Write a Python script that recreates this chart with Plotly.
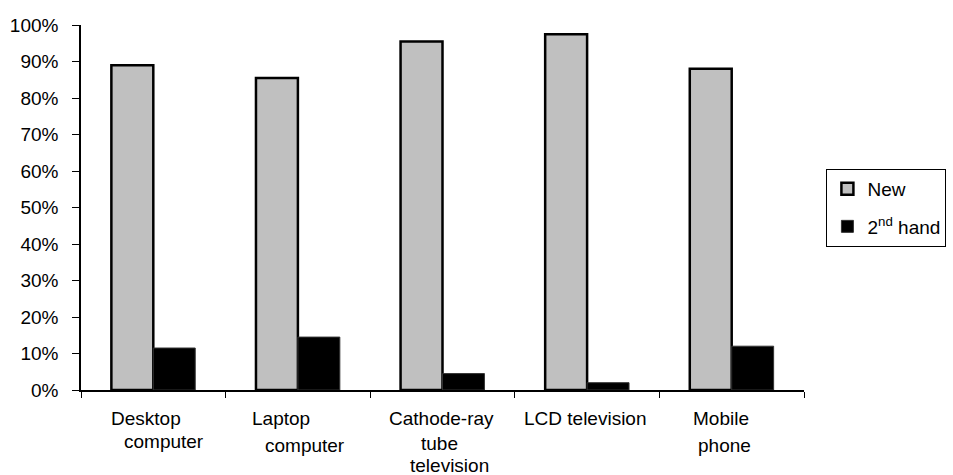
import plotly.graph_objects as go

categories = ["Desktop computer", "Laptop computer", "Cathode-ray tube television",
              "LCD television", "Mobile phone"]
new_vals = [89.0, 85.5, 95.5, 97.5, 88.0]
second_vals = [11.5, 14.5, 4.5, 2.0, 12.0]
y_ticks = [0, 10, 20, 30, 40, 50, 60, 70, 80, 90, 100]
y_tick_labels = [f"{v}%" for v in y_ticks]

# category label lines: (category index, text, x offset px, y offset px below axis)
label_lines = [
    (0, "Desktop", -7, 28), (0, "computer", 11, 51),
    (1, "Laptop", -17, 28), (1, "computer", 7, 55),
    (2, "Cathode-ray", -1, 28), (2, "tube", -3, 53), (2, "television", 7, 75),
    (3, "LCD television", -2, 28),
    (4, "Mobile", -11, 28), (4, "phone", -7, 55),
]

FONT = "Liberation Sans, Arial, sans-serif"
FS = 19

fig = go.Figure()
fig.add_trace(go.Bar(x=categories, y=new_vals, name="New",
                     marker=dict(color="#c0c0c0", line=dict(color="black", width=2.5)),
                     legendgroup="a"))
fig.add_trace(go.Bar(x=categories, y=second_vals, name="2<sup>nd</sup> hand",
                     marker=dict(color="black", line=dict(color="#333333", width=1)),
                     legendgroup="b"))

for idx, txt, dx, dy in label_lines:
    fig.add_annotation(x=categories[idx], xref="x", y=0, yref="paper",
                       text=txt, showarrow=False, xanchor="center", yanchor="middle",
                       xshift=dx, yshift=-dy,
                       font=dict(family=FONT, size=FS, color="black"))

fig.update_layout(
    width=953, height=475,
    margin=dict(l=81, r=149, t=25, b=85, autoexpand=False),
    paper_bgcolor="white", plot_bgcolor="white",
    barmode="group", bargap=0.42, bargroupgap=0,
    font=dict(family=FONT, size=FS, color="black"),
    showlegend=True,
    legend=dict(x=1.031, y=0.606, xanchor="left", yanchor="top",
                bordercolor="black", borderwidth=1, bgcolor="white",
                traceorder="grouped", tracegroupgap=10,
                font=dict(family=FONT, size=FS, color="black"),
                itemwidth=30),
)
fig.update_xaxes(type="category", showticklabels=False, showline=True,
                 linecolor="black", linewidth=1.5, ticks="outside",
                 tickson="boundaries", ticklen=6, tickcolor="black",
                 showgrid=False, zeroline=False)
fig.update_yaxes(range=[0, 100], tickvals=y_ticks, ticktext=y_tick_labels,
                 showline=True, linecolor="black", linewidth=1.5,
                 ticks="outside", ticklen=7, tickcolor="black",
                 ticklabelstandoff=10,
                 showgrid=False, zeroline=False,
                 tickfont=dict(family=FONT, size=FS, color="black"))

fig.write_html("out.html")
